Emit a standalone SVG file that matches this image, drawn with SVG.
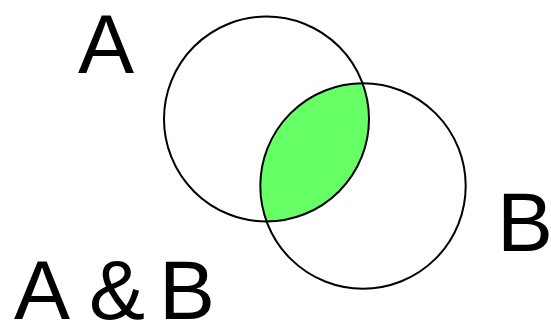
<svg xmlns="http://www.w3.org/2000/svg" width="551" height="321" viewBox="0 0 551 321">
<style>
.c{fill:none;stroke:#000;stroke-width:2}
.t{font-family:"Liberation Sans",Arial,sans-serif;font-size:84px;fill:#000}
</style>
<defs>
<clipPath id="clipA"><circle cx="266.5" cy="119" r="102.5"/></clipPath>
</defs>
<rect width="551" height="321" fill="#fff"/>
<g id="intersection">
<circle cx="363" cy="186" r="102.7" fill="#66ff66" clip-path="url(#clipA)"/>
</g>
<g id="setA"><circle class="c" cx="266.5" cy="119" r="102.5"/></g>
<g id="setB"><circle class="c" cx="363" cy="186" r="102.7"/></g>
<g id="labelA"><text class="t" x="78" y="73">A</text></g>
<g id="labelB"><text class="t" x="497" y="251">B</text></g>
<g id="labelAB"><text class="t" y="319"><tspan x="14">A</tspan><tspan x="89">&amp;</tspan><tspan x="159">B</tspan></text></g>
</svg>
